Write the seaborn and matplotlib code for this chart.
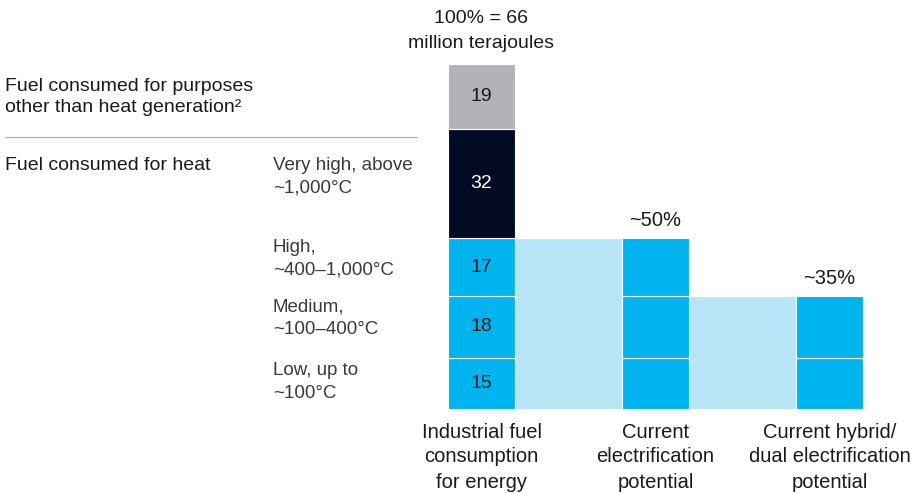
import matplotlib
matplotlib.use("Agg")
import matplotlib.pyplot as plt
import seaborn as sns

# values in million terajoules, bottom to top
segments = ["Low", "Medium", "High", "Very high", "Other"]
fuel_values = [15, 18, 17, 32, 19]
seg_colors = ["#00b5ef", "#00b5ef", "#00b5ef", "#030b24", "#b1b3b6"]
seg_text_colors = ["#1a1a1a", "#1a1a1a", "#1a1a1a", "#ffffff", "#1a1a1a"]

electrification = [15, 18, 17]   # ~50%
hybrid = [15, 18]                # ~35%

categories = ["Industrial fuel\nconsumption\nfor energy",
              "Current\nelectrification\npotential",
              "Current hybrid/\ndual electrification\npotential"]
pct_labels = ["~50%", "~35%"]

left_labels = [
    ("Fuel consumed for purposes\nother than heat generation\u00b2", 5, 97),
    ("Fuel consumed for heat", 5, 165),
]
temp_labels = ["Very high, above\n~1,000°C", "High,\n~400\u20131,000°C",
               "Medium,\n~100\u2013400°C", "Low, up to\n~100°C"]
temp_y = [177, 259, 318, 382]

sns.set_theme(style="white")
plt.rcParams["font.family"] = ["Liberation Sans", "DejaVu Sans"]

BLUE = "#00b5ef"
LIGHT = "#b8e5f5"
TXT = "#1a1a1a"

fig = plt.figure(figsize=(9.18, 4.93), dpi=100)
ax = fig.add_axes([0, 0, 1, 1])
SCALE = 3.42
BASE = 409  # pixel row of the zero line


def py(p):
    return (BASE - p) / SCALE


ax.set_xlim(0, 918)
ax.set_ylim(py(493), py(0))
ax.axis("off")

x_bars = [481.5, 655.5, 829.5]
bar_w = 67
x_conn = [568.5, 742.5]
conn_w = 107

# connectors
ax.bar(x_conn[0], sum(electrification), width=conn_w, color=LIGHT,
       edgecolor="white", linewidth=0.8)
ax.bar(x_conn[1], sum(hybrid), width=conn_w, color=LIGHT,
       edgecolor="white", linewidth=0.8)

# stacked first bar
bottom = 0
for v, c, tc in zip(fuel_values, seg_colors, seg_text_colors):
    ax.bar(x_bars[0], v, bottom=bottom, width=bar_w, color=c,
           edgecolor="white", linewidth=0.8)
    ax.text(x_bars[0], bottom + v / 2, str(v), ha="center", va="center",
            fontsize=14, color=tc)
    bottom += v

for xb, vals in zip(x_bars[1:], [electrification, hybrid]):
    bottom = 0
    for v in vals:
        ax.bar(xb, v, bottom=bottom, width=bar_w, color=BLUE,
               edgecolor="white", linewidth=0.8)
        bottom += v

for xb, lab, vals in zip(x_bars[1:], pct_labels, [electrification, hybrid]):
    ax.text(xb, sum(vals) + 2.3, lab, ha="center", va="bottom",
            fontsize=14.5, color=TXT)

# header
ax.text(x_bars[0], py(31), "100% = 66\nmillion terajoules", ha="center",
        va="center", fontsize=14, color=TXT, linespacing=1.55)

# category labels
for xb, lab in zip(x_bars, categories):
    ax.text(xb, py(457), lab, ha="center", va="center", fontsize=14.5,
            color=TXT, linespacing=1.4)

# left side labels
for lab, x, y in left_labels:
    ax.text(x, py(y), lab, ha="left", va="center", fontsize=14,
            color=TXT, linespacing=1.3)
for lab, y in zip(temp_labels, temp_y):
    ax.text(273, py(y), lab, ha="left", va="center", fontsize=13.5,
            color="#3a3a3a", linespacing=1.45)

ax.plot([5, 417], [py(137), py(137)], color="#b0b0b0", linewidth=0.9)

fig.savefig("out.png", dpi=100)
